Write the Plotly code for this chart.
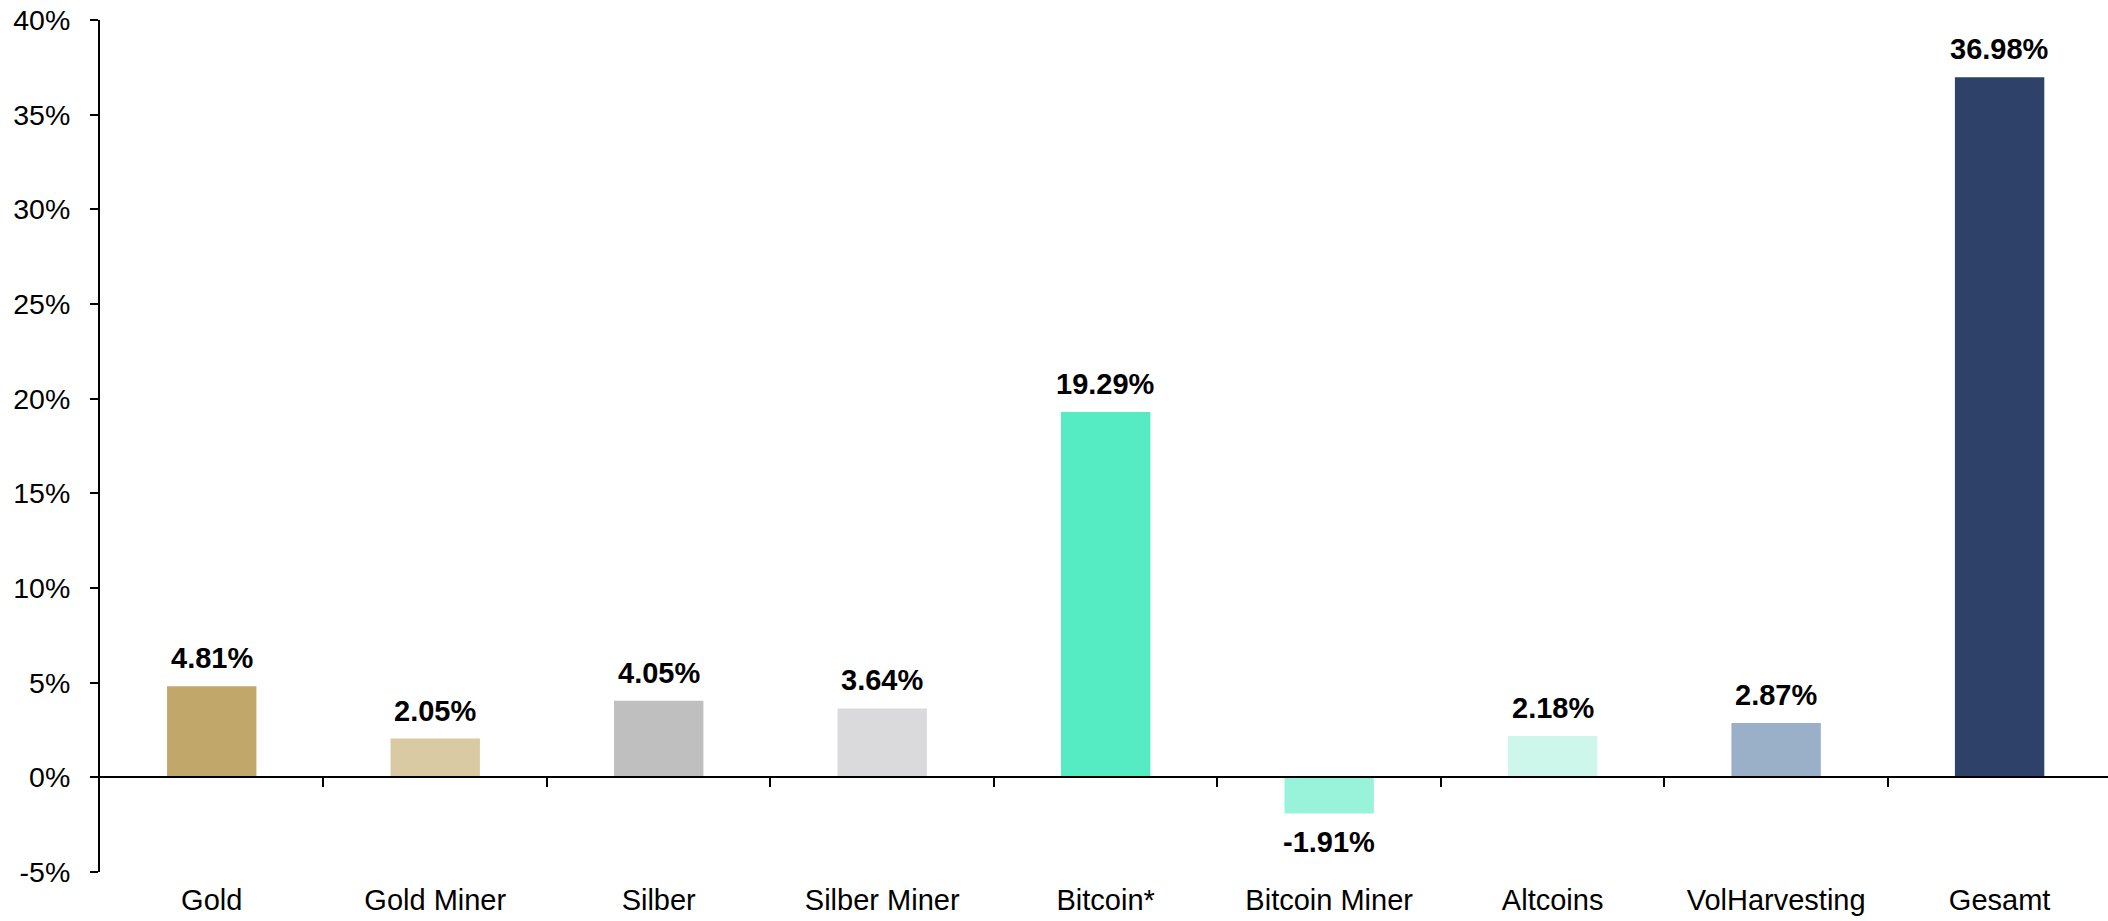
import plotly.graph_objects as go

# Daten
kategorien = ["Gold", "Gold Miner", "Silber", "Silber Miner", "Bitcoin*",
              "Bitcoin Miner", "Altcoins", "VolHarvesting", "Gesamt"]
werte = [4.81, 2.05, 4.05, 3.64, 19.29, -1.91, 2.18, 2.87, 36.98]
farben = ["#C1A86A", "#D9CAA3", "#BFBFBF", "#DAD9DC", "#55EBC3",
          "#99F3DA", "#CCF7EA", "#9AAFC8", "#2E4269"]
y_ticks = [-5, 0, 5, 10, 15, 20, 25, 30, 35, 40]

schrift = "Arial, Liberation Sans, sans-serif"

fig = go.Figure()
fig.add_trace(go.Bar(x=kategorien, y=werte, marker_color=farben,
                     marker_line_width=0, width=0.4, hoverinfo="skip"))

# unsichtbare Spur fuer die Achse auf Hoehe 0 (Linie + Striche zwischen den Kategorien)
grenzen = [i + 0.5 for i in range(len(kategorien) - 1)]
fig.add_trace(go.Scatter(x=grenzen, y=[0] * len(grenzen), xaxis="x2",
                         mode="markers", marker_opacity=0, hoverinfo="skip",
                         showlegend=False))

# Beschriftungen der Balken
for k, w in zip(kategorien, werte):
    fig.add_annotation(x=k, y=w, text=f"{w:.2f}%", showarrow=False,
                       yanchor="bottom" if w >= 0 else "top",
                       yshift=10 if w >= 0 else -10,
                       font=dict(family=schrift, size=29, color="black", weight="bold"))

ymin, ymax = -5, 40
fig.update_layout(
    width=2108, height=921,
    margin=dict(l=100, r=0, t=20, b=49),
    plot_bgcolor="white", paper_bgcolor="white",
    showlegend=False,
    font=dict(family=schrift, size=28, color="black"),
    xaxis=dict(type="category", range=[-0.5, 8.485], showline=False, ticks="",
               showgrid=False, zeroline=False, tickfont=dict(size=29),
               ticklabelstandoff=8, automargin=False),
    xaxis2=dict(type="linear", overlaying="x", anchor="free",
                position=(0 - ymin) / (ymax - ymin), range=[-0.5, 8.485],
                showline=True, linecolor="black", linewidth=2,
                ticks="outside", ticklen=9, tickwidth=2, tickcolor="black",
                tickvals=grenzen, showticklabels=False, showgrid=False,
                zeroline=False, automargin=False),
    yaxis=dict(range=[ymin, ymax], tickvals=y_ticks,
               ticktext=[f"{t}%" for t in y_ticks],
               showline=True, linecolor="black", linewidth=2,
               ticks="outside", ticklen=8, tickwidth=2, tickcolor="black",
               showgrid=False, zeroline=False, tickfont=dict(size=28.5),
               ticklabelstandoff=14, automargin=False,
               ticklabeloverflow="allow"),
)

# Seitenrand entfernen, damit die Grafik bei (0,0) beginnt
fig.write_html("out.html", config={"displayModeBar": False},
               post_script="document.body.style.margin='0';")
